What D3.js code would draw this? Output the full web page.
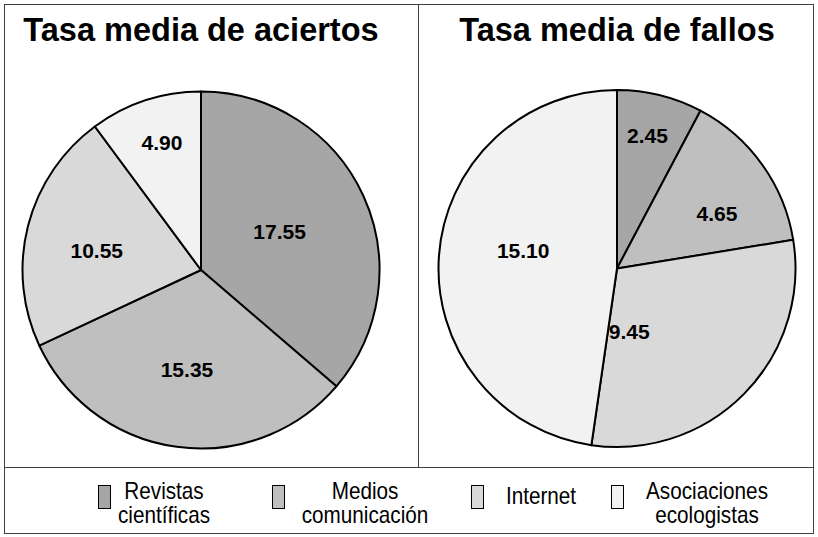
<!DOCTYPE html>
<html>
<head>
<meta charset="utf-8">
<script src="https://cdn.jsdelivr.net/npm/d3@7"></script>
<style>
  html, body { margin: 0; padding: 0; background: #fff; }
  svg { display: block; }
  text { font-family: "Liberation Sans", Arial, sans-serif; }
</style>
</head>
<body>
<svg id="chart" width="818" height="537"></svg>
<script>
// Categories (legend order = slice order, clockwise from 12 o'clock)
const categories = ["Revistas científicas", "Medios comunicación", "Internet", "Asociaciones ecologistas"];
const legendLines = [["Revistas", "científicas"], ["Medios", "comunicación"], ["Internet"], ["Asociaciones", "ecologistas"]];
const colors = ["#a6a6a6", "#bfbfbf", "#d9d9d9", "#f2f2f2"];

// Series values
const aciertos = [17.55, 15.35, 10.55, 4.90];
const fallos = [2.45, 4.65, 9.45, 15.10];

const titles = ["Tasa media de aciertos", "Tasa media de fallos"];

// Label placement (polar: angle in degrees clockwise from top, fraction of radius)
const labelAnglesAciertos = [64, 188, 280.6, 343];
const labelRadiiAciertos = [0.49, 0.565, 0.594, 0.747];
const labelAnglesFallos = [12.9, 61, 169, 280.8];
const labelRadiiFallos = [0.765, 0.64, 0.36, 0.535];

const svg = d3.select("#chart");

// Frame and separators
svg.append("rect").attr("x", 4.5).attr("y", 4.5).attr("width", 809).attr("height", 529)
  .attr("fill", "#fff").attr("stroke", "#404040").attr("stroke-width", 1);
svg.append("line").attr("x1", 4.5).attr("x2", 813.5).attr("y1", 467.5).attr("y2", 467.5)
  .attr("stroke", "#404040").attr("stroke-width", 1);
svg.append("line").attr("x1", 418.5).attr("x2", 418.5).attr("y1", 4.5).attr("y2", 467.5)
  .attr("stroke", "#404040").attr("stroke-width", 1);

const pie = d3.pie().sort(null).value(d => d);

function drawPie(values, cx, cy, r, title, labelAngles, labelRadii) {
  const g = svg.append("g").attr("transform", `translate(${cx},${cy})`);
  const arc = d3.arc().innerRadius(0).outerRadius(r);
  g.selectAll("path.slice").data(pie(values)).join("path")
    .attr("class", "slice")
    .attr("d", arc)
    .attr("fill", (d, i) => colors[i])
    .attr("stroke", "#000")
    .attr("stroke-width", 2)
    .attr("stroke-linejoin", "round");
  g.selectAll("text.val").data(values).join("text")
    .attr("class", "val")
    .attr("x", (d, i) => Math.sin(labelAngles[i] * Math.PI / 180) * labelRadii[i] * r)
    .attr("y", (d, i) => -Math.cos(labelAngles[i] * Math.PI / 180) * labelRadii[i] * r)
    .attr("text-anchor", "middle")
    .attr("dominant-baseline", "central")
    .attr("font-size", 21)
    .attr("font-weight", "bold")
    .attr("fill", "#000")
    .text(d => d.toFixed(2));
  svg.append("text")
    .attr("x", cx).attr("y", 41)
    .attr("text-anchor", "middle")
    .attr("font-size", 32.5)
    .attr("font-weight", "bold")
    .attr("fill", "#000")
    .text(title);
}

drawPie(aciertos, 201, 270, 178.5, titles[0], labelAnglesAciertos, labelRadiiAciertos);
drawPie(fallos, 617, 268.5, 178.5, titles[1], labelAnglesFallos, labelRadiiFallos);

// Legend: swatch plus condensed, centred one- or two-line label
const legendX = [98, 272, 471, 611];
const legendTextX = [164, 365, 541, 707];
const legend = svg.append("g");
categories.forEach((c, i) => {
  const gx = legendX[i];
  legend.append("rect")
    .attr("x", gx + 0.5).attr("y", 485.5).attr("width", 12).attr("height", 23)
    .attr("fill", colors[i]).attr("stroke", "#000").attr("stroke-width", 1);
  const lines = legendLines[i];
  const sx = 0.9;
  const t = legend.append("text")
    .attr("transform", `translate(${legendTextX[i]},0) scale(${sx},1)`)
    .attr("text-anchor", "middle")
    .attr("font-size", 23)
    .attr("fill", "#000");
  lines.forEach((ln, k) => {
    t.append("tspan")
      .attr("x", 0)
      .attr("y", lines.length === 1 ? 504 : 499 + k * 24)
      .text(ln);
  });
});
</script>
</body>
</html>
